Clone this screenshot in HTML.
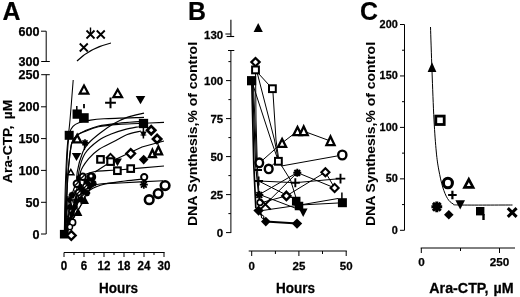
<!DOCTYPE html>
<html><head><meta charset="utf-8"><title>Figure</title>
<style>
html,body{margin:0;padding:0;background:#fff;}
body{width:520px;height:297px;overflow:hidden;}
svg{display:block;filter:blur(0.35px);}
svg text{font-family:"Liberation Sans",Arial,sans-serif;font-weight:bold;fill:#000;}
</style></head><body>
<svg width="520" height="297" viewBox="0 0 520 297">
<rect width="520" height="297" fill="#fff"/>
<g id="panelA">
<text transform="translate(2.5 19.5) scale(1.02 1.06)" font-size="24.4" text-anchor="start" stroke="#000" stroke-width="0.2">A</text>
<line x1="46.2" y1="31.2" x2="46.2" y2="61.5" stroke="#000" stroke-width="1.0"/>
<line x1="41" y1="31.2" x2="46.2" y2="31.2" stroke="#000" stroke-width="1.0"/>
<line x1="41.2" y1="61.5" x2="49.8" y2="61.5" stroke="#000" stroke-width="1.0"/>
<line x1="46.2" y1="74.7" x2="46.2" y2="234" stroke="#000" stroke-width="1.0"/>
<line x1="41.2" y1="74.7" x2="49.8" y2="74.7" stroke="#000" stroke-width="1.0"/>
<line x1="41" y1="106.8" x2="46.2" y2="106.8" stroke="#000" stroke-width="1.0"/>
<line x1="41" y1="138.6" x2="46.2" y2="138.6" stroke="#000" stroke-width="1.0"/>
<line x1="41" y1="170.4" x2="46.2" y2="170.4" stroke="#000" stroke-width="1.0"/>
<line x1="41" y1="202.3" x2="46.2" y2="202.3" stroke="#000" stroke-width="1.0"/>
<line x1="41" y1="234" x2="46.2" y2="234" stroke="#000" stroke-width="1.0"/>
<text transform="translate(39.6 35.7) scale(1.0 1.0)" font-size="12.6" text-anchor="end" stroke="#000" stroke-width="0.25">600</text>
<text transform="translate(39.6 66.0) scale(1.0 1.0)" font-size="12.6" text-anchor="end" stroke="#000" stroke-width="0.25">300</text>
<text transform="translate(39.6 79.2) scale(1.0 1.0)" font-size="12.6" text-anchor="end" stroke="#000" stroke-width="0.25">250</text>
<text transform="translate(39.6 111.3) scale(1.0 1.0)" font-size="12.6" text-anchor="end" stroke="#000" stroke-width="0.25">200</text>
<text transform="translate(39.6 143.1) scale(1.0 1.0)" font-size="12.6" text-anchor="end" stroke="#000" stroke-width="0.25">150</text>
<text transform="translate(39.6 174.9) scale(1.0 1.0)" font-size="12.6" text-anchor="end" stroke="#000" stroke-width="0.25">100</text>
<text transform="translate(39.6 206.8) scale(1.0 1.0)" font-size="12.6" text-anchor="end" stroke="#000" stroke-width="0.25">50</text>
<text transform="translate(39.6 238.5) scale(1.0 1.0)" font-size="12.6" text-anchor="end" stroke="#000" stroke-width="0.25">0</text>
<text transform="translate(12.0 182.9) rotate(-90) scale(1.03 1.0)" font-size="13.4" text-anchor="start" stroke="#000" stroke-width="0.15">Ara-CTP,<tspan dx="2.6"> µM</tspan></text>
<line x1="64" y1="252.5" x2="164.6" y2="252.5" stroke="#000" stroke-width="1.0"/>
<line x1="64" y1="252.5" x2="64" y2="257" stroke="#000" stroke-width="1.0"/>
<line x1="74" y1="252.5" x2="74" y2="255" stroke="#000" stroke-width="1.0"/>
<line x1="84" y1="252.5" x2="84" y2="257" stroke="#000" stroke-width="1.0"/>
<line x1="94" y1="252.5" x2="94" y2="255" stroke="#000" stroke-width="1.0"/>
<line x1="104" y1="252.5" x2="104" y2="257" stroke="#000" stroke-width="1.0"/>
<line x1="114" y1="252.5" x2="114" y2="255" stroke="#000" stroke-width="1.0"/>
<line x1="124" y1="252.5" x2="124" y2="257" stroke="#000" stroke-width="1.0"/>
<line x1="134" y1="252.5" x2="134" y2="255" stroke="#000" stroke-width="1.0"/>
<line x1="144" y1="252.5" x2="144" y2="257" stroke="#000" stroke-width="1.0"/>
<line x1="154" y1="252.5" x2="154" y2="255" stroke="#000" stroke-width="1.0"/>
<line x1="164" y1="252.5" x2="164" y2="257" stroke="#000" stroke-width="1.0"/>
<text transform="translate(64 270) scale(1.0 1.03)" font-size="11.6" text-anchor="middle" stroke="#000" stroke-width="0.25">0</text>
<text transform="translate(84 270) scale(1.0 1.03)" font-size="11.6" text-anchor="middle" stroke="#000" stroke-width="0.25">6</text>
<text transform="translate(104 270) scale(1.0 1.03)" font-size="11.6" text-anchor="middle" stroke="#000" stroke-width="0.25">12</text>
<text transform="translate(124 270) scale(1.0 1.03)" font-size="11.6" text-anchor="middle" stroke="#000" stroke-width="0.25">18</text>
<text transform="translate(144 270) scale(1.0 1.03)" font-size="11.6" text-anchor="middle" stroke="#000" stroke-width="0.25">24</text>
<text transform="translate(164 270) scale(1.0 1.03)" font-size="11.6" text-anchor="middle" stroke="#000" stroke-width="0.25">30</text>
<text transform="translate(118.5 292.6) scale(1.0 1.08)" font-size="13.5" text-anchor="middle" stroke="#000" stroke-width="0.25">Hours</text>
<path d="M77,61 Q90,48 111,43" stroke="#000" stroke-width="1.15" fill="none"/>
<path d="M64.3,234C64.45,226.67 64.75,204.00 65.2,190C65.65,176.00 66.20,161.67 67,150C67.80,138.33 68.97,131.67 70,120C71.03,108.33 72.67,86.67 73.2,80" stroke="#000" stroke-width="1.05" fill="none"/>
<path d="M64.6,234C64.83,226.67 65.50,204.00 66,190C66.50,176.00 67.00,159.50 67.6,150C68.20,140.50 68.70,136.95 69.6,133C70.50,129.05 71.45,128.02 73,126.3C74.55,124.58 76.25,123.68 78.9,122.7C81.55,121.72 84.72,121.05 88.9,120.4C93.08,119.75 94.82,119.30 104,118.8C113.18,118.30 137.33,117.63 144,117.4" stroke="#000" stroke-width="1.15" fill="none"/>
<path d="M65,234C65.43,225.00 66.88,192.33 67.6,180C68.32,167.67 68.60,166.17 69.3,160C70.00,153.83 70.55,147.12 71.8,143C73.05,138.88 74.60,137.33 76.8,135.3C79.00,133.27 81.38,132.35 85,130.8C88.62,129.25 92.90,127.27 98.5,126C104.10,124.73 111.85,123.93 118.6,123.2C125.35,122.47 135.60,121.87 139,121.6" stroke="#000" stroke-width="1.15" fill="none"/>
<path d="M65,234C65.43,225.00 66.88,192.33 67.6,180C68.32,167.67 68.60,166.17 69.3,160C70.00,153.83 70.55,147.08 71.8,143C73.05,138.92 74.60,137.43 76.8,135.5C79.00,133.57 81.38,132.85 85,131.4C88.62,129.95 92.90,127.97 98.5,126.8C104.10,125.63 111.85,124.95 118.6,124.4C125.35,123.85 131.43,123.83 139,123.5C146.57,123.17 159.83,122.58 164,122.4" stroke="#000" stroke-width="1.15" fill="none"/>
<path d="M66,234C67.17,229.67 71.20,215.33 73,208C74.80,200.67 76.10,196.00 76.8,190C77.50,184.00 76.20,178.33 77.2,172C78.20,165.67 80.88,156.83 82.8,152C84.72,147.17 85.80,146.17 88.7,143C91.60,139.83 96.05,136.20 100.2,133C104.35,129.80 109.12,126.40 113.6,123.8C118.08,121.20 122.03,119.18 127.1,117.4C132.17,115.62 141.18,113.82 144,113.1" stroke="#000" stroke-width="1.15" fill="none"/>
<path d="M66,234C67.33,229.67 71.95,215.33 74,208C76.05,200.67 77.50,196.00 78.3,190C79.10,184.00 77.68,178.08 78.8,172C79.92,165.92 81.72,158.75 85,153.5C88.28,148.25 94.02,143.78 98.5,140.5C102.98,137.22 107.42,135.65 111.9,133.8C116.38,131.95 120.92,130.58 125.4,129.4C129.88,128.22 136.57,127.15 138.8,126.7" stroke="#000" stroke-width="1.15" fill="none"/>
<path d="M66,234C67.50,229.67 72.67,215.33 75,208C77.33,200.67 79.08,196.00 80,190C80.92,184.00 79.05,177.23 80.5,172C81.95,166.77 85.65,162.37 88.7,158.6C91.75,154.83 94.60,152.25 98.8,149.4C103.00,146.55 109.15,143.98 113.9,141.5C118.65,139.02 122.78,136.25 127.3,134.5C131.82,132.75 138.72,131.58 141,131" stroke="#000" stroke-width="1.15" fill="none"/>
<path d="M66,234C67.00,227.50 69.67,204.33 72,195C74.33,185.67 76.17,181.92 80,178C83.83,174.08 88.67,172.83 95,171.5C101.33,170.17 106.50,170.92 118,170C129.50,169.08 156.33,166.67 164,166" stroke="#000" stroke-width="1.15" fill="none"/>
<path d="M95,172 L112,161 L142,147 L164,141" stroke="#000" stroke-width="1.15" fill="none"/>
<path d="M66,234C67.67,228.00 72.67,205.67 76,198C79.33,190.33 82.00,190.33 86,188C90.00,185.67 94.33,184.83 100,184C105.67,183.17 109.50,183.55 120,183C130.50,182.45 155.83,181.08 163,180.7" stroke="#000" stroke-width="1.15" fill="none"/>
<path d="M67,234C68.83,228.67 74.17,209.33 78,202C81.83,194.67 85.50,193.00 90,190C94.50,187.00 99.17,185.50 105,184C110.83,182.50 118.67,181.83 125,181C131.33,180.17 140.00,179.33 143,179" stroke="#000" stroke-width="1.15" fill="none"/>
<line x1="64.5" y1="233" x2="66.5" y2="200" stroke="#000" stroke-width="1.0"/>
<line x1="64.5" y1="233" x2="67.8" y2="196" stroke="#000" stroke-width="1.0"/>
<line x1="64.5" y1="233" x2="69" y2="196" stroke="#000" stroke-width="1.0"/>
<line x1="64.5" y1="233" x2="72" y2="192" stroke="#000" stroke-width="1.0"/>
<line x1="64.5" y1="233" x2="75" y2="190" stroke="#000" stroke-width="1.0"/>
<line x1="64.5" y1="233" x2="79" y2="190" stroke="#000" stroke-width="1.0"/>
<line x1="64.5" y1="233" x2="83" y2="192" stroke="#000" stroke-width="1.0"/>
<line x1="64.5" y1="233" x2="86" y2="196" stroke="#000" stroke-width="1.0"/>
<line x1="64.5" y1="233" x2="82" y2="204" stroke="#000" stroke-width="1.0"/>
<line x1="64.5" y1="233" x2="78" y2="210" stroke="#000" stroke-width="1.0"/>
<line x1="64.5" y1="233" x2="75" y2="216" stroke="#000" stroke-width="1.0"/>
<path d="M79.75,43.5L87.75,51.5M87.75,43.5L79.75,51.5" stroke="#000" stroke-width="1.8" fill="none"/>
<path d="M86.5,30.5L94.5,38.5M94.5,30.5L86.5,38.5" stroke="#000" stroke-width="1.8" fill="none"/>
<path d="M96.75,30.5L104.75,38.5M104.75,30.5L96.75,38.5" stroke="#000" stroke-width="1.8" fill="none"/>
<line x1="90.5" y1="27.5" x2="90.5" y2="34.5" stroke="#000" stroke-width="1.4"/>
<path d="M84,85.49L88.35,93.7L79.65,93.7Z" fill="#fff" stroke="#000" stroke-width="2.2" stroke-linejoin="miter"/>
<path d="M117.7,89.49L122.05,97.2L113.35,97.2Z" fill="#fff" stroke="#000" stroke-width="2.2" stroke-linejoin="miter"/>
<path d="M105.1,102.8H115.9M110.5,97.39999999999999V108.2" stroke="#000" stroke-width="2" fill="none"/>
<path d="M135.7,96L145.3,96L140.5,104.3Z" fill="#000"/>
<line x1="76.8" y1="106" x2="76.8" y2="110" stroke="#000" stroke-width="1.5"/>
<line x1="84" y1="104" x2="84" y2="108.3" stroke="#000" stroke-width="1.8"/>
<rect x="72.55" y="109.44999999999999" width="9.3" height="9.3" fill="#000"/>
<rect x="79.10000000000001" y="113.2" width="9.6" height="9.6" fill="#000"/>
<rect x="138.85" y="118.85" width="9.3" height="9.3" fill="#000"/>
<path d="M140.0,131.5L146.8,131.5L143.4,137.5Z" fill="#000"/>
<line x1="143.4" y1="128" x2="143.4" y2="138.5" stroke="#000" stroke-width="1.5"/>
<line x1="140.5" y1="135" x2="146.3" y2="135" stroke="#000" stroke-width="1.0"/>
<path d="M151.2,126.08999999999999L155.31,130.2L151.2,134.31L147.08999999999997,130.2Z" fill="#fff" stroke="#000" stroke-width="2.7"/>
<path d="M157.1,134.89L161.21,139L157.1,143.11L152.98999999999998,139Z" fill="#fff" stroke="#000" stroke-width="2.7"/>
<path d="M152.4,149.78L155.88,157.04999999999998L148.93,157.04999999999998Z" fill="#fff" stroke="#000" stroke-width="2.3" stroke-linejoin="miter"/>
<path d="M158.4,146.49L162.08,154.45L154.72,154.45Z" fill="#fff" stroke="#000" stroke-width="2.3" stroke-linejoin="miter"/>
<rect x="64.7" y="130.8" width="9" height="9" fill="#000"/>
<path d="M77.2,134.89L81.25,142.4L73.15,142.4Z" fill="#fff" stroke="#000" stroke-width="2.2" stroke-linejoin="miter"/>
<path d="M81.5,142.8H88.5M85,139.3V146.3M82.48,140.28L87.52,145.32000000000002M87.52,140.28L82.48,145.32000000000002" stroke="#000" stroke-width="1.7" fill="none"/>
<line x1="85" y1="142" x2="84.3" y2="150" stroke="#000" stroke-width="1.5"/>
<path d="M71.8,153L81.2,153L76.5,161Z" fill="#000"/>
<rect x="97.2" y="156.1" width="6.6" height="6.6" fill="#fff" stroke="#000" stroke-width="2.1"/>
<path d="M110.5,153.93L114.37,157.8L110.5,161.67000000000002L106.63,157.8Z" fill="#fff" stroke="#000" stroke-width="1.9"/>
<rect x="107.3" y="158.29999999999998" width="6.6" height="6.6" fill="#fff" stroke="#000" stroke-width="2.1"/>
<path d="M113.1,158.6L121.9,158.6L117.5,166.3Z" fill="#000"/>
<rect x="114.10000000000001" y="167.39999999999998" width="6.6" height="6.6" fill="#fff" stroke="#000" stroke-width="2.1"/>
<rect x="127.39999999999999" y="165.29999999999998" width="6.6" height="6.6" fill="#fff" stroke="#000" stroke-width="2.1"/>
<path d="M130.7,149.11L135.08999999999997,153.5L130.7,157.89L126.30999999999999,153.5Z" fill="#fff" stroke="#000" stroke-width="2.3"/>
<path d="M143.7,154.79999999999998L148.5,159.6L143.7,164.4L138.89999999999998,159.6Z" fill="#000"/>
<ellipse cx="144.2" cy="177.1" rx="3.1" ry="3.20" fill="#fff" stroke="#000" stroke-width="2.0"/>
<path d="M139.8,184.7H147.8M143.8,180.7V188.7M140.92000000000002,181.82L146.68,187.57999999999998M146.68,181.82L140.92000000000002,187.57999999999998" stroke="#000" stroke-width="1.8" fill="none"/>
<ellipse cx="165.1" cy="185.6" rx="4.3" ry="4.30" fill="#fff" stroke="#000" stroke-width="2.6"/>
<ellipse cx="158.2" cy="193.6" rx="4.3" ry="4.30" fill="#fff" stroke="#000" stroke-width="2.6"/>
<ellipse cx="149.2" cy="199.7" rx="4.3" ry="4.30" fill="#fff" stroke="#000" stroke-width="2.6"/>
<path d="M70.8,169.43L73.88,174.85L67.72,174.85Z" fill="#fff" stroke="#000" stroke-width="1.5" stroke-linejoin="miter"/>
<circle cx="91.4" cy="177" r="4.8" fill="#000"/>
<circle cx="91" cy="176" r="1.5" fill="#fff"/>
<path d="M89.5,181.4L94.1,186L89.5,190.6L84.9,186Z" fill="#000"/>
<path d="M83,186.8L87.2,191L83,195.2L78.8,191Z" fill="#000"/>
<rect x="83.5" y="178.5" width="6" height="6" fill="#000"/>
<path d="M90.3,183.5H96.7M93.5,180.3V186.7M91.196,181.196L95.804,185.804M95.804,181.196L91.196,185.804" stroke="#000" stroke-width="1.8" fill="none"/>
<path d="M76,178H82M79,175V181M76.84,175.84L81.16,180.16M81.16,175.84L76.84,180.16" stroke="#000" stroke-width="1.6" fill="none"/>
<path d="M83.8,193H90.2M87,189.8V196.2M84.696,190.696L89.304,195.304M89.304,190.696L84.696,195.304" stroke="#000" stroke-width="1.8" fill="none"/>
<path d="M77,186.5H83M80,183.5V189.5M77.84,184.34L82.16,188.66M82.16,184.34L77.84,188.66" stroke="#000" stroke-width="1.7" fill="none"/>
<ellipse cx="82.8" cy="176.7" rx="3.1" ry="3.26" fill="#fff" stroke="#000" stroke-width="1.9"/>
<line x1="81" y1="178.5" x2="84.6" y2="175" stroke="#000" stroke-width="1.3"/>
<ellipse cx="76.7" cy="183.7" rx="3.1" ry="3.26" fill="#fff" stroke="#000" stroke-width="1.9"/>
<line x1="75" y1="185.5" x2="78.5" y2="182" stroke="#000" stroke-width="1.3"/>
<ellipse cx="85.5" cy="186.5" rx="2.6" ry="2.73" fill="#fff" stroke="#000" stroke-width="1.6"/>
<line x1="84" y1="188" x2="87" y2="185" stroke="#000" stroke-width="1.2"/>
<ellipse cx="78.5" cy="192.5" rx="2.8" ry="2.94" fill="#fff" stroke="#000" stroke-width="1.7"/>
<line x1="77" y1="194" x2="80" y2="191" stroke="#000" stroke-width="1.2"/>
<path d="M68.7,195H75.3M72,191.7V198.3M69.624,192.624L74.376,197.376M74.376,192.624L69.624,197.376" stroke="#000" stroke-width="1.8" fill="none"/>
<path d="M77.2,199.5H83.8M80.5,196.2V202.8M78.124,197.124L82.876,201.876M82.876,197.124L78.124,201.876" stroke="#000" stroke-width="1.8" fill="none"/>
<path d="M67,207H73M70,204V210M67.84,204.84L72.16,209.16M72.16,204.84L67.84,209.16" stroke="#000" stroke-width="1.6" fill="none"/>
<path d="M72.7,201H78.3M75.5,198.2V203.8M73.484,198.984L77.516,203.016M77.516,198.984L73.484,203.016" stroke="#000" stroke-width="1.6" fill="none"/>
<path d="M84.6,195.5L89.0,204L80.19999999999999,204Z" fill="#000"/>
<path d="M78,207.4L82.4,216L73.6,216Z" fill="#000"/>
<path d="M69,214H75M72,211V217M69.84,211.84L74.16,216.16M74.16,211.84L69.84,216.16" stroke="#000" stroke-width="1.6" fill="none"/>
<path d="M65.9,220H71.1M68.5,217.4V222.6M66.628,218.128L70.372,221.872M70.372,218.128L66.628,221.872" stroke="#000" stroke-width="1.5" fill="none"/>
<path d="M72,207H78M75,204V210M72.84,204.84L77.16,209.16M77.16,204.84L72.84,209.16" stroke="#000" stroke-width="1.6" fill="none"/>
<path d="M69.5,196.8L72.7,200L69.5,203.2L66.3,200Z" fill="#000"/>
<path d="M70.3,208L76.7,208L73.5,213.5Z" fill="#000"/>
<ellipse cx="72.6" cy="222.4" rx="3" ry="3.15" fill="#fff" stroke="#000" stroke-width="1.7"/>
<ellipse cx="70" cy="227" rx="2.5" ry="2.62" fill="#fff" stroke="#000" stroke-width="1.4"/>
<rect x="59.900000000000006" y="229.89999999999998" width="8.6" height="8.6" fill="#000"/>
<path d="M71.3,231.11L75.69,235.5L71.3,239.89L66.91,235.5Z" fill="#fff" stroke="#000" stroke-width="2.3"/>
</g>
<g id="panelB">
<text transform="translate(188 19.5) scale(1.02 1.06)" font-size="24.4" text-anchor="start" stroke="#000" stroke-width="0.2">B</text>
<line x1="230.9" y1="19.7" x2="230.9" y2="36.5" stroke="#000" stroke-width="1.1"/>
<line x1="226.6" y1="36.5" x2="234.2" y2="36.5" stroke="#000" stroke-width="1.1"/>
<line x1="225.4" y1="34" x2="230.9" y2="34" stroke="#000" stroke-width="1.0"/>
<line x1="230.9" y1="50.5" x2="230.9" y2="233" stroke="#000" stroke-width="1.0"/>
<line x1="228" y1="50.5" x2="234.3" y2="50.5" stroke="#000" stroke-width="1.0"/>
<line x1="226" y1="232.6" x2="230.9" y2="232.6" stroke="#000" stroke-width="1.0"/>
<line x1="226" y1="194.6" x2="230.9" y2="194.6" stroke="#000" stroke-width="1.0"/>
<line x1="226" y1="156.6" x2="230.9" y2="156.6" stroke="#000" stroke-width="1.0"/>
<line x1="226" y1="118.6" x2="230.9" y2="118.6" stroke="#000" stroke-width="1.0"/>
<line x1="226" y1="80.6" x2="230.9" y2="80.6" stroke="#000" stroke-width="1.0"/>
<line x1="228.4" y1="213.6" x2="230.9" y2="213.6" stroke="#000" stroke-width="1.0"/>
<line x1="228.4" y1="175.6" x2="230.9" y2="175.6" stroke="#000" stroke-width="1.0"/>
<line x1="228.4" y1="137.6" x2="230.9" y2="137.6" stroke="#000" stroke-width="1.0"/>
<line x1="228.4" y1="99.6" x2="230.9" y2="99.6" stroke="#000" stroke-width="1.0"/>
<line x1="228.4" y1="61.599999999999994" x2="230.9" y2="61.599999999999994" stroke="#000" stroke-width="1.0"/>
<text transform="translate(223.2 38.6) scale(1.0 1.03)" font-size="11.5" text-anchor="end" stroke="#000" stroke-width="0.25">130</text>
<text transform="translate(223.2 84.89999999999999) scale(1.0 1.03)" font-size="11.5" text-anchor="end" stroke="#000" stroke-width="0.25">100</text>
<text transform="translate(223.2 122.89999999999999) scale(1.0 1.03)" font-size="11.5" text-anchor="end" stroke="#000" stroke-width="0.25">75</text>
<text transform="translate(223.2 160.9) scale(1.0 1.03)" font-size="11.5" text-anchor="end" stroke="#000" stroke-width="0.25">50</text>
<text transform="translate(223.2 198.9) scale(1.0 1.03)" font-size="11.5" text-anchor="end" stroke="#000" stroke-width="0.25">25</text>
<text transform="translate(223.2 236.9) scale(1.0 1.03)" font-size="11.5" text-anchor="end" stroke="#000" stroke-width="0.25">0</text>
<text transform="translate(197.2 134) rotate(-90) scale(1.058 1.0)" font-size="13.2" text-anchor="middle" stroke="#000" stroke-width="0.05">DNA Synthesis,% of control</text>
<line x1="248.7" y1="251" x2="346.8" y2="251" stroke="#000" stroke-width="1.0"/>
<line x1="251.7" y1="251" x2="251.7" y2="256" stroke="#000" stroke-width="1.0"/>
<line x1="275.4" y1="251" x2="275.4" y2="254" stroke="#000" stroke-width="1.0"/>
<line x1="298.9" y1="251" x2="298.9" y2="256" stroke="#000" stroke-width="1.0"/>
<line x1="322.5" y1="251" x2="322.5" y2="254" stroke="#000" stroke-width="1.0"/>
<line x1="346.2" y1="251" x2="346.2" y2="256" stroke="#000" stroke-width="1.0"/>
<text transform="translate(251.7 269.8) scale(1.0 1.03)" font-size="11.5" text-anchor="middle" stroke="#000" stroke-width="0.25">0</text>
<text transform="translate(298.9 269.8) scale(1.0 1.03)" font-size="11.5" text-anchor="middle" stroke="#000" stroke-width="0.25">25</text>
<text transform="translate(346.2 269.8) scale(1.0 1.03)" font-size="11.5" text-anchor="middle" stroke="#000" stroke-width="0.25">50</text>
<text transform="translate(295.5 292.6) scale(1.0 1.08)" font-size="13.5" text-anchor="middle" stroke="#000" stroke-width="0.25">Hours</text>
<path d="M251.8,82 L253.8,165 L255.8,208" stroke="#000" stroke-width="1.7" fill="none"/>
<path d="M252.5,82 L255.6,165 L258.6,195" stroke="#000" stroke-width="1.2" fill="none"/>
<path d="M253,85 L271,140 L278,160 L290.5,180 L297,201" stroke="#000" stroke-width="1.0" fill="none"/>
<path d="M257.5,74 L274.5,140 L278.4,161" stroke="#000" stroke-width="1.0" fill="none"/>
<path d="M258,73 L269,85" stroke="#000" stroke-width="1.0" fill="none"/>
<path d="M273,93 L276,140 L278.4,157" stroke="#000" stroke-width="1.0" fill="none"/>
<path d="M253.5,85 L256.5,160 L259.4,163" stroke="#000" stroke-width="1.0" fill="none"/>
<path d="M259.4,163 L282,143 L297.6,131 L303.2,131 L330.4,141" stroke="#000" stroke-width="1.0" fill="none"/>
<path d="M255.5,66 L256,120 L257.5,170 L259,194" stroke="#000" stroke-width="1.0" fill="none"/>
<path d="M281.3,166 L337,156" stroke="#000" stroke-width="1.0" fill="none"/>
<path d="M268.3,169 L278,160" stroke="#000" stroke-width="1.0" fill="none"/>
<path d="M259,181 L295.3,182.7 L340.5,178.6" stroke="#000" stroke-width="1.0" fill="none"/>
<path d="M259.4,194.5 L297.3,172.6 L334.6,187.9 L325.4,172.2 L286.4,195.9" stroke="#000" stroke-width="1.0" fill="none"/>
<path d="M265.4,204.3 L297.3,172.6" stroke="#000" stroke-width="1.0" fill="none"/>
<path d="M260,203 L286.4,195.9" stroke="#000" stroke-width="1.0" fill="none"/>
<path d="M258.9,211 L300,205 L338,198.5 M300,205 L338,203" stroke="#000" stroke-width="1.0" fill="none"/>
<path d="M259.4,194.5 L303,211" stroke="#000" stroke-width="1.0" fill="none"/>
<path d="M258.6,181 L296.4,200" stroke="#000" stroke-width="1.0" fill="none"/>
<path d="M258.9,211 L265.6,221.6 L297.3,223.6" stroke="#000" stroke-width="2" fill="none"/>
<path d="M258.2,23L262.8,32L253.6,32Z" fill="#000"/>
<path d="M255.5,57.94L259.66,62.1L255.5,66.26L251.34,62.1Z" fill="#fff" stroke="#000" stroke-width="2.2"/>
<rect x="252.1" y="66.5" width="6.800000000000001" height="6.800000000000001" fill="#fff" stroke="#000" stroke-width="2.0"/>
<rect x="247.0" y="76.10000000000001" width="9.2" height="9.2" fill="#000"/>
<rect x="269.0" y="85.3" width="6.800000000000001" height="6.800000000000001" fill="#fff" stroke="#000" stroke-width="2.0"/>
<path d="M297.5,126.98L301.57,135.15L293.43,135.15Z" fill="#fff" stroke="#000" stroke-width="2.3" stroke-linejoin="miter"/>
<path d="M303.7,126.39L307.77,135.15L299.62,135.15Z" fill="#fff" stroke="#000" stroke-width="2.3" stroke-linejoin="miter"/>
<path d="M282.1,138.99L286.07,146.85L278.13,146.85Z" fill="#fff" stroke="#000" stroke-width="2.3" stroke-linejoin="miter"/>
<path d="M330.5,136.49L334.57,145.04999999999998L326.43,145.04999999999998Z" fill="#fff" stroke="#000" stroke-width="2.3" stroke-linejoin="miter"/>
<rect x="275.0" y="157.9" width="6.800000000000001" height="6.800000000000001" fill="#fff" stroke="#000" stroke-width="2.0"/>
<line x1="254.2" y1="170" x2="262" y2="170" stroke="#000" stroke-width="2.0"/>
<ellipse cx="259.3" cy="162.8" rx="3.8" ry="4.30" fill="#fff" stroke="#000" stroke-width="2.4"/>
<ellipse cx="268.7" cy="168.9" rx="3.9" ry="4.20" fill="#fff" stroke="#000" stroke-width="2.4"/>
<ellipse cx="342.3" cy="155" rx="4.1" ry="4.40" fill="#fff" stroke="#000" stroke-width="2.4"/>
<path d="M293.3,172.8H301.3M297.3,168.8V176.8M294.42,169.92000000000002L300.18,175.68M300.18,169.92000000000002L294.42,175.68" stroke="#000" stroke-width="2" fill="none"/>
<path d="M290.8,182.7H299.8M295.3,178.2V187.2" stroke="#000" stroke-width="1.9" fill="none"/>
<path d="M254.10000000000002,181H263.1M258.6,176.5V185.5" stroke="#000" stroke-width="1.9" fill="none"/>
<path d="M335.7,178.6H345.3M340.5,173.79999999999998V183.4" stroke="#000" stroke-width="1.9" fill="none"/>
<path d="M255.3,195H263.3M259.3,191V199M256.42,192.12L262.18,197.88M262.18,192.12L256.42,197.88" stroke="#000" stroke-width="2.1" fill="none"/>
<ellipse cx="260" cy="202.5" rx="2.8" ry="2.94" fill="#fff" stroke="#000" stroke-width="1.7"/>
<path d="M260.09999999999997,199.0L270.7,209.60000000000002M270.7,199.0L260.09999999999997,209.60000000000002" stroke="#000" stroke-width="2.0" fill="none"/>
<path d="M286.4,191.78L290.52,195.9L286.4,200.02L282.28,195.9Z" fill="#fff" stroke="#000" stroke-width="2.4"/>
<path d="M325.4,168.17L329.42999999999995,172.2L325.4,176.23L321.37,172.2Z" fill="#fff" stroke="#000" stroke-width="2.1"/>
<path d="M334.6,183.87L338.63,187.9L334.6,191.93L330.57000000000005,187.9Z" fill="#fff" stroke="#000" stroke-width="2.1"/>
<rect x="291.95" y="196.75" width="8.5" height="8.5" fill="#000"/>
<rect x="294.75" y="201.75" width="8.5" height="8.5" fill="#000"/>
<path d="M298.8,208.5L307.59999999999997,208.5L303.2,217Z" fill="#000"/>
<path d="M258.6,205.4L263.8,210.6L258.6,215.79999999999998L253.40000000000003,210.6Z" fill="#000"/>
<ellipse cx="262.6" cy="216.9" rx="1.3" ry="1.37" fill="#fff" stroke="#000" stroke-width="1.0"/>
<path d="M265.8,216.79999999999998L270.6,221.6L265.8,226.4L261.0,221.6Z" fill="#000"/>
<path d="M297,218.4L302.2,223.6L297,228.79999999999998L291.8,223.6Z" fill="#000"/>
<line x1="341.9" y1="192.6" x2="341.9" y2="199" stroke="#000" stroke-width="1.5"/>
<rect x="337.9" y="198.2" width="9" height="9" fill="#000"/>
</g>
<g id="panelC">
<text transform="translate(360 19.5) scale(1.02 1.06)" font-size="24.4" text-anchor="start" stroke="#000" stroke-width="0.2">C</text>
<line x1="404.5" y1="24.5" x2="404.5" y2="230.3" stroke="#000" stroke-width="1.0"/>
<line x1="400" y1="230.3" x2="404.5" y2="230.3" stroke="#000" stroke-width="1.0"/>
<text transform="translate(397.8 233.8) scale(1.0 1.02)" font-size="10.9" text-anchor="end" stroke="#000" stroke-width="0.25">0</text>
<line x1="400" y1="178.85000000000002" x2="404.5" y2="178.85000000000002" stroke="#000" stroke-width="1.0"/>
<text transform="translate(397.8 182.35000000000002) scale(1.0 1.02)" font-size="10.9" text-anchor="end" stroke="#000" stroke-width="0.25">50</text>
<line x1="400" y1="127.40000000000002" x2="404.5" y2="127.40000000000002" stroke="#000" stroke-width="1.0"/>
<text transform="translate(397.8 130.90000000000003) scale(1.0 1.02)" font-size="10.9" text-anchor="end" stroke="#000" stroke-width="0.25">100</text>
<line x1="400" y1="75.95000000000002" x2="404.5" y2="75.95000000000002" stroke="#000" stroke-width="1.0"/>
<text transform="translate(397.8 79.45000000000002) scale(1.0 1.02)" font-size="10.9" text-anchor="end" stroke="#000" stroke-width="0.25">150</text>
<line x1="400" y1="24.50000000000003" x2="404.5" y2="24.50000000000003" stroke="#000" stroke-width="1.0"/>
<text transform="translate(397.8 28.00000000000003) scale(1.0 1.02)" font-size="10.9" text-anchor="end" stroke="#000" stroke-width="0.25">200</text>
<line x1="402" y1="204.57500000000002" x2="404.5" y2="204.57500000000002" stroke="#000" stroke-width="1.0"/>
<line x1="402" y1="153.125" x2="404.5" y2="153.125" stroke="#000" stroke-width="1.0"/>
<line x1="402" y1="101.67500000000001" x2="404.5" y2="101.67500000000001" stroke="#000" stroke-width="1.0"/>
<line x1="402" y1="50.22500000000002" x2="404.5" y2="50.22500000000002" stroke="#000" stroke-width="1.0"/>
<text transform="translate(375.0 134) rotate(-90) scale(1.058 1.0)" font-size="13.2" text-anchor="middle" stroke="#000" stroke-width="0.05">DNA Synthesis,% of control</text>
<line x1="420.7" y1="248" x2="515" y2="248" stroke="#000" stroke-width="1.0"/>
<line x1="421.3" y1="248" x2="421.3" y2="253" stroke="#000" stroke-width="1.0"/>
<line x1="460.5" y1="248" x2="460.5" y2="251" stroke="#000" stroke-width="1.0"/>
<line x1="499.5" y1="248" x2="499.5" y2="253" stroke="#000" stroke-width="1.0"/>
<text transform="translate(421.5 266.3) scale(1.0 1.0)" font-size="11.7" text-anchor="middle" stroke="#000" stroke-width="0.25">0</text>
<text transform="translate(499.5 266.3) scale(1.0 1.0)" font-size="11.7" text-anchor="middle" stroke="#000" stroke-width="0.25">250</text>
<text transform="translate(429.3 292.8) scale(1.05 1.08)" font-size="13.6" text-anchor="start" stroke="#000" stroke-width="0.25">Ara-CTP,<tspan dx="1.1"> µM</tspan></text>
<path d="M430.5,27C430.75,34.33 431.42,55.50 432,71C432.58,86.50 433.28,106.50 434,120C434.72,133.50 435.50,143.67 436.3,152C437.10,160.33 437.73,164.17 438.8,170C439.87,175.83 441.25,182.25 442.7,187C444.15,191.75 445.78,195.70 447.5,198.5C449.22,201.30 450.92,202.72 453,203.8C455.08,204.88 450.08,204.80 460,205C469.92,205.20 503.75,205.00 512.5,205" stroke="#000" stroke-width="1.0" fill="none"/>
<path d="M432,62.3L436.4,72L427.6,72Z" fill="#000"/>
<rect x="435.8" y="116.1" width="8.399999999999999" height="8.399999999999999" fill="#fff" stroke="#000" stroke-width="2.8"/>
<ellipse cx="447.9" cy="183" rx="4.5" ry="4.80" fill="#fff" stroke="#000" stroke-width="3.1"/>
<path d="M468.8,179.37L473.08,187.45000000000002L464.52,187.45000000000002Z" fill="#fff" stroke="#000" stroke-width="2.7" stroke-linejoin="miter"/>
<path d="M448.09999999999997,195H456.7M452.4,190.7V199.3" stroke="#000" stroke-width="2.2" fill="none"/>
<path d="M455.4,200.3L465.0,200.3L460.2,209.5Z" fill="#000"/>
<path d="M431.40000000000003,206.8H442.2M436.8,201.4V212.20000000000002M432.91200000000003,202.912L440.688,210.68800000000002M440.688,202.912L432.91200000000003,210.68800000000002" stroke="#000" stroke-width="3.0" fill="none"/>
<path d="M448.8,210.0L453.6,214.8L448.8,219.60000000000002L444.0,214.8Z" fill="#000"/>
<rect x="476.0" y="207.0" width="8.4" height="8.4" fill="#000"/>
<line x1="483.5" y1="214" x2="483.5" y2="220" stroke="#000" stroke-width="2.4"/>
<path d="M507.80000000000007,208.1L516.6,216.9M516.6,208.1L507.80000000000007,216.9" stroke="#000" stroke-width="3.0" fill="none"/>
</g>
</svg>
</body></html>
